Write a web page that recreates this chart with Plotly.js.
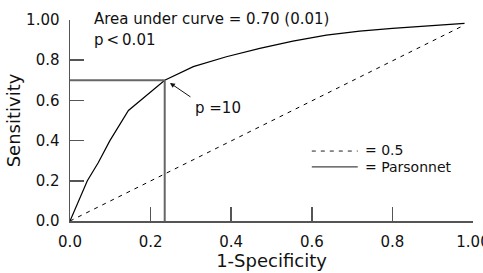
<!DOCTYPE html>
<html>
<head>
<meta charset="utf-8">
<script src="https://cdn.plot.ly/plotly-3.0.1.min.js"></script>
<style>html,body{margin:0;padding:0;background:#fff;}#chart{width:483px;height:273px;}</style>
</head>
<body>
<div id="chart"></div>
<script>
// ROC curve (Parsonnet score)
const rocX = [0, 0.043, 0.070, 0.099, 0.145, 0.186, 0.235, 0.306, 0.388, 0.471, 0.553, 0.636, 0.719, 0.80, 0.884, 0.979];
const rocY = [0, 0.20, 0.29, 0.40, 0.55, 0.62, 0.70, 0.768, 0.817, 0.859, 0.895, 0.925, 0.945, 0.958, 0.97, 0.983];
// Reference (AUC = 0.5) line
const refX = [0, 0.979];
const refY = [0, 0.975];
// Cut-off point p = 10
const cutX = 0.235;
const cutY = 0.70;
const tickVals = [0, 0.2, 0.4, 0.6, 0.8, 1.0];
const tickText = ["0.0", "0.2", "0.4", "0.6", "0.8", "1.00"];
const legendLabels = ["= 0.5", "= Parsonnet"];
const aucText = "Area under curve = 0.70 (0.01)";
const pText = "p\u2009<\u20090.01";
const cutText = "p =10";

const FONT = "DejaVu Sans, Arial, sans-serif";

const traces = [
  {x: refX, y: refY, mode: "lines", line: {color: "#000", width: 1, dash: "4px,5px"}, hoverinfo: "skip", showlegend: false},
  {x: rocX, y: rocY, mode: "lines", line: {color: "#000", width: 1.2}, hoverinfo: "skip", showlegend: false}
];

const axisCommon = {
  range: [0, 1], showgrid: false, zeroline: false,
  showline: true, linecolor: "#555", linewidth: 1.5,
  ticks: "inside", ticklen: 14, tickwidth: 1.5, tickcolor: "#555",
  tickvals: tickVals, ticktext: tickText,
  tickfont: {family: FONT, size: 15, color: "#111"},
  ticklabeloverflow: "allow",
  fixedrange: true
};

const layout = {
  width: 483, height: 273,
  margin: {l: 70, r: 10, t: 20, b: 52},
  paper_bgcolor: "#fff", plot_bgcolor: "#fff",
  font: {family: FONT, color: "#111"},
  xaxis: Object.assign({}, axisCommon, {
    title: {text: "1-Specificity", font: {family: FONT, size: 18, color: "#111"}, standoff: 5},
    ticklabelstandoff: 6
  }),
  yaxis: Object.assign({}, axisCommon, {
    title: {text: "Sensitivity", font: {family: FONT, size: 18, color: "#111"}, standoff: 1},
    ticklabelstandoff: 6
  }),
  shapes: [
    {type: "line", xref: "x", yref: "y", x0: 0, y0: cutY, x1: cutX, y1: cutY, line: {color: "#666", width: 2}},
    {type: "line", xref: "x", yref: "y", x0: cutX, y0: 0, x1: cutX, y1: cutY, line: {color: "#666", width: 2}},
    {type: "line", xref: "x", yref: "y", x0: 0.60, y0: 0.348, x1: 0.714, y1: 0.348, line: {color: "#222", width: 1, dash: "4px,5px"}},
    {type: "line", xref: "x", yref: "y", x0: 0.60, y0: 0.269, x1: 0.714, y1: 0.269, line: {color: "#444", width: 1.2}}
  ],
  annotations: [
    {x: 0.0545, y: 1.005, xref: "paper", yref: "paper", text: aucText, showarrow: false, xanchor: "left", yanchor: "middle", font: {family: FONT, size: 15, color: "#111"}},
    {x: 0.0545, y: 0.90, xref: "paper", yref: "paper", text: pText, showarrow: false, xanchor: "left", yanchor: "middle", font: {family: FONT, size: 15, color: "#111"}},
    {x: 0.305, y: 0.562, xref: "x", yref: "y", text: cutText, showarrow: false, xanchor: "left", yanchor: "middle", font: {family: FONT, size: 15, color: "#111"}},
    {x: 0.248, y: 0.687, xref: "x", yref: "y", text: "", showarrow: true, axref: "pixel", ayref: "pixel", ax: 22, ay: 15, arrowhead: 2, arrowsize: 1, arrowwidth: 1, arrowcolor: "#111", standoff: 0},
    {x: 0.726, y: 0.354, xref: "x", yref: "y", text: legendLabels[0], showarrow: false, xanchor: "left", yanchor: "middle", font: {family: FONT, size: 14, color: "#111"}},
    {x: 0.726, y: 0.270, xref: "x", yref: "y", text: legendLabels[1], showarrow: false, xanchor: "left", yanchor: "middle", font: {family: FONT, size: 14, color: "#111"}}
  ]
};

Plotly.newPlot("chart", traces, layout, {displayModeBar: false, staticPlot: true});
</script>
</body>
</html>
